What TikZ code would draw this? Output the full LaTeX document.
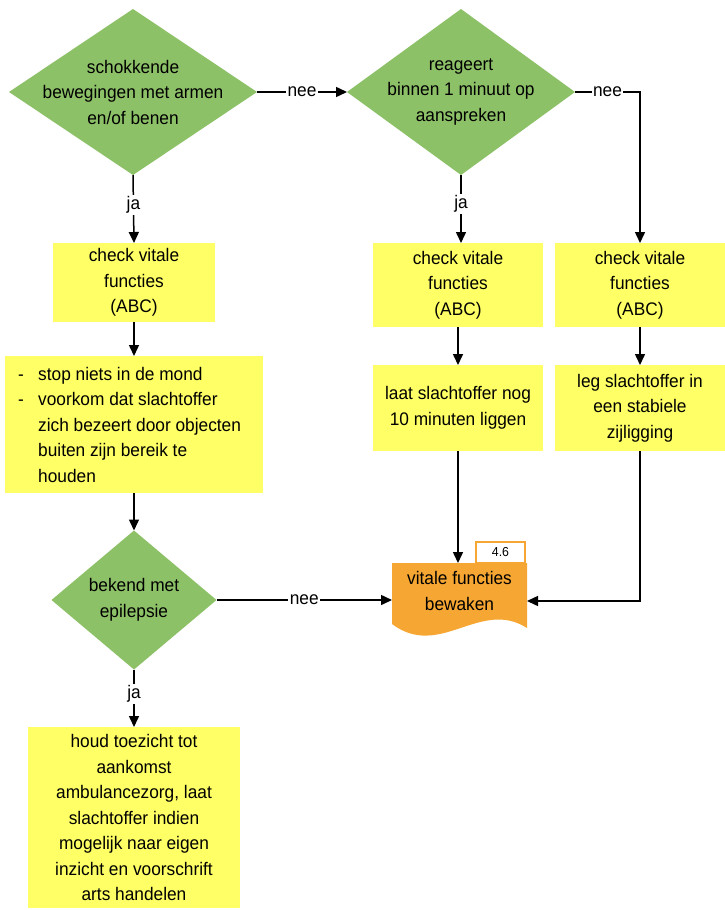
\documentclass[tikz,border=0pt]{standalone}
\usepackage{fontspec}
\setmainfont[FakeStretch=0.95]{Liberation Sans}
\usetikzlibrary{shapes.geometric,arrows.meta}
\definecolor{dgreen}{RGB}{141,193,104}
\definecolor{byellow}{RGB}{255,255,102}
\definecolor{dorange}{RGB}{246,167,51}
\newcommand\fsz{\fontsize{18.2}{25.5}\selectfont}
\begin{document}
\begin{tikzpicture}[x=1pt,y=-1pt,
  dia/.style={diamond, fill=dgreen, inner sep=0pt, outer sep=0pt},
  txt/.style={align=center, inner sep=0pt, font=\fsz, text=black},
  box/.style={rectangle, fill=byellow, inner sep=0pt, outer sep=0pt, align=center, font=\fsz},
  lbl/.style={fill=white, inner sep=1.5pt, font=\fsz},
  conn/.style={line width=1.5pt, -{Triangle[length=11pt,width=10pt]}},
  plain/.style={line width=1.5pt}
]
\useasboundingbox (0,0) rectangle (725,910);

% diamonds
\node[dia, minimum width=248pt, minimum height=166pt] (d1) at (133,92) {};
\node[txt] (d1t) at (133,92) {schokkende\\bewegingen met armen\\en/of benen};
\node[dia, minimum width=228pt, minimum height=166pt] (d2) at (461,92) {};
\node[txt] (d2t) at (461,92) {reageert\\binnen 1 minuut op\\aanspreken};
\node[dia, minimum width=165pt, minimum height=139pt] (d3) at (134,600) {};
\node[txt] (d3t) at (134,600) {bekend met\\epilepsie};

% boxes
\node[box, minimum width=162pt, minimum height=79pt] (A) at (134,282.5) {check vitale\\functies\\(ABC)};
\node[box, minimum width=170pt, minimum height=84pt] (B) at (458,285) {check vitale\\functies\\(ABC)};
\node[box, minimum width=170pt, minimum height=84pt] (C) at (640,285) {check vitale\\functies\\(ABC)};
\node[box, minimum width=258pt, minimum height=137pt] (D) at (134,424.5) {};
\node[txt, align=left, anchor=west] (Dt) at (18,424.5) {\makebox[20pt][l]{-}stop niets in de mond\\
  \makebox[20pt][l]{-}voorkom dat slachtoffer\\
  \hspace*{20pt}zich bezeert door objecten\\
  \hspace*{20pt}buiten zijn bereik te\\
  \hspace*{20pt}houden};
\node[box, minimum width=170pt, minimum height=86pt] (B2) at (458,408) {laat slachtoffer nog\\10 minuten liggen};
\node[box, minimum width=170pt, minimum height=86pt] (C2) at (640,408) {leg slachtoffer in\\een stabiele\\zijligging};
\node[box, minimum width=212pt, minimum height=181pt] (F) at (134,817.5) {houd toezicht tot\\aankomst\\ambulancezorg, laat\\slachtoffer indien\\mogelijk naar eigen\\inzicht en voorschrift\\arts handelen};

% document shape
\node[rectangle, inner sep=0pt, outer sep=0pt, minimum width=135pt, minimum height=76pt] (doc) at (459.5,601) {};
\fill[dorange] (doc.north west) -- (doc.north east) -- (527,628)
  .. controls (480,598) and (440,660) .. (392,624) -- cycle;
\node[txt] (doct) at (459.5,591) {vitale functies\\bewaken};
\node[rectangle, draw=dorange, fill=white, line width=1.2pt, inner sep=0pt, minimum width=49pt, minimum height=21pt, font=\fontsize{13}{15}\selectfont] (tab) at (500.5,552.5) {4.6};

% connectors
\draw[conn] (d1.east) -- node[lbl] {nee} (d2.west);
\draw[conn] (d2.east) -| node[lbl, pos=0.25] {nee} (C.north);
\draw[conn] (d1.south) -- node[lbl, pos=0.44] {ja} (A.north);
\draw[conn] (d2.south) -- node[lbl, pos=0.43] {ja} (d2.south |- B.north);
\draw[conn] (A.south) -- (D.north);
\draw[conn] (B.south) -- (B2.north);
\draw[conn] (C.south) -- (C2.north);
\draw[conn] (D.south) -- (d3.north);
\draw[conn] (d3.east) -- node[lbl] {nee} (d3.east -| doc.west);
\draw[conn] (d3.south) -- node[lbl, pos=0.42] {ja} (F.north);
\draw[conn] (B2.south) -- (B2.south |- doc.north);
\draw[conn] (C2.south) |- (doc.east);
\end{tikzpicture}
\end{document}
